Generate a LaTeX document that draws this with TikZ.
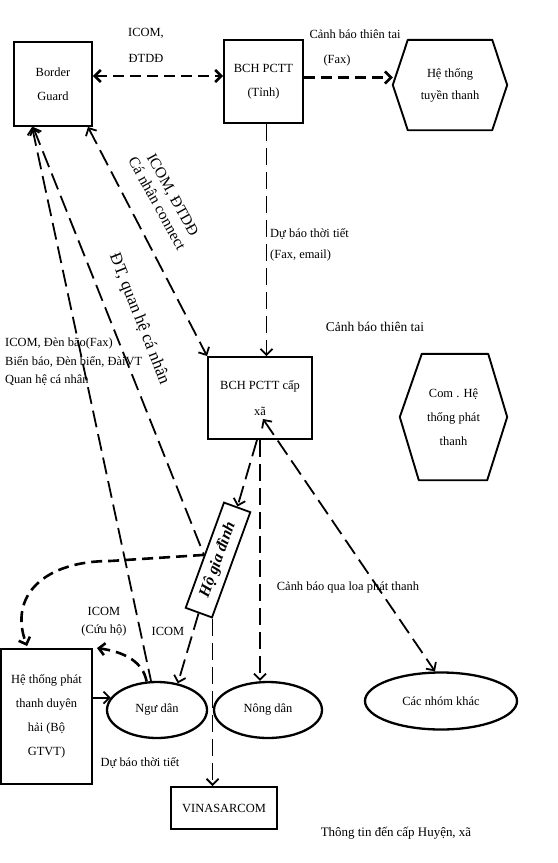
\documentclass[tikz,border=0pt]{standalone}
\usepackage{fontspec}
\setmainfont{Liberation Serif}
\usetikzlibrary{arrows.meta,calc,shapes.geometric}
\begin{document}
\begin{tikzpicture}[x=1bp,y=-1bp,
  every node/.style={font=\fontsize{12.5}{24}\selectfont, inner sep=0pt},
  >={Straight Barb[length=6bp,width=12bp]},
  box/.style={draw, line width=1.9bp, align=center},
  oval/.style={draw, ellipse, line width=2.3bp},
  hexline/.style={line width=1.9bp, line join=round},
  thickdash/.style={line width=2.6bp, dash pattern=on 11bp off 6bp},
  meddash/.style={line width=1.8bp, dash pattern=on 17bp off 7bp},
  medsolid/.style={line width=1.8bp}]
\useasboundingbox (0,0) rectangle (558,863);

% nodes
\node[box, minimum width=78bp, minimum height=84bp] (bg) at (53,84) {Border\\Guard};
\node[box, minimum width=79bp, minimum height=83bp] (tinh) at (263.5,81.5) {BCH PCTT\\(Tỉnh)};
\node[minimum width=114bp, minimum height=90bp, align=center, font=\fontsize{12.5}{22}\selectfont] (htt) at (450,85) {Hệ thống\\tuyền thanh};
\draw[hexline] (htt.west) -- ([xshift=15bp]htt.north west) -- ([xshift=-15bp]htt.north east) -- (htt.east) -- ([xshift=-15bp]htt.south east) -- ([xshift=15bp]htt.south west) -- cycle;
\node[minimum width=107bp, minimum height=126bp, align=center] (com) at (453.5,417) {Com . Hệ\\thống phát\\thanh};
\draw[hexline] (com.west) -- ([xshift=22bp]com.north west) -- ([xshift=-19bp]com.north east) -- (com.east) -- ([xshift=-20bp]com.south east) -- ([xshift=19bp]com.south west) -- cycle;
\node[box, minimum width=104bp, minimum height=82bp, font=\fontsize{12.5}{26}\selectfont] (xa) at (260,398) {BCH PCTT cấp\\xã};
\node[draw, line width=1.8bp, minimum width=112bp, minimum height=28bp, rotate=70, font=\bfseries\itshape\fontsize{16}{18}\selectfont] (hgd) at (218,560) {Hộ gia đình};
\node[oval, minimum width=100bp, minimum height=56bp] (nd) at (157,710) {Ngư dân};
\node[oval, minimum width=108bp, minimum height=56bp] (nong) at (268,710) {Nông dân};
\node[oval, minimum width=152bp, minimum height=57bp] (cnk) at (441,701) {Các nhóm khác};
\node[box, minimum width=91bp, minimum height=135bp] (htp) at (46.5,716.5) {Hệ thống phát\\thanh duyên\\hải (Bộ\\GTVT)};
\node[box, minimum width=106bp, minimum height=42bp] (vina) at (224,808) {VINASARCOM};

% connectors
\draw[thickdash, <->] ([yshift=8bp]bg.east) -- ([yshift=8bp]bg.east -| tinh.west);
\draw[thickdash, ->] ([yshift=4bp]tinh.east) -- ([yshift=4bp]tinh.east -| htt.west);
\draw[meddash, ->] ([xshift=3bp]tinh.south) -- ([xshift=3bp]tinh.south |- xa.north);
\draw[meddash, <->] ([xshift=-5bp]bg.south east) -- (xa.north west);
\draw[meddash, <-] ([xshift=19bp]bg.south west) -- ([xshift=-6bp]nd.north);
\draw[meddash, <-] ([xshift=20bp]bg.south west) -- (hgd.north);
\draw[meddash, ->] ([xshift=-3bp]xa.south) -- (hgd.east);
\draw[meddash, ->] (xa.south) -- (xa.south |- nong.north);
\coordinate (xin) at (263,419);
\draw[meddash, <->] (xin) -- ([xshift=-6bp]cnk.north);
\coordinate (bend) at (110,561);
\draw[thickdash, ->] (hgd.north) -- (bend) .. controls (45,561) and (8,595) .. ($(htp.north west)+(27,-2)$);
\draw[meddash, ->] (hgd.west) -- (nd.52);
\draw[meddash, ->] (hgd.south west) -- (hgd.south west |- vina.north);
\draw[thickdash, ->] (nd.110) .. controls (143,662) and (125,652) .. ([xshift=4bp]htp.north east);
\draw[medsolid, ->] (htp.east |- nd.165) -- (nd.165);

% labels
\node[align=center, font=\fontsize{12.5}{26}\selectfont] at (146,45) {ICOM,\\ĐTDĐ};
\node[align=left, font=\fontsize{12.5}{26}\selectfont] at (355,48) {Cảnh báo thiên tai\\\hspace*{14bp}(Fax)};
\node[align=left, anchor=north west, font=\fontsize{12.5}{21}\selectfont] at (270,228) {Dự báo thời tiết\\(Fax, email)};
\node[font=\fontsize{13.5}{16}\selectfont] at (375,327) {Cảnh báo thiên tai};
\node[align=left, anchor=west, font=\fontsize{12.5}{18.5}\selectfont] at (5,362) {ICOM, Đèn bão(Fax)\\Biển báo, Đèn biển, ĐàiVT\\Quan hệ cá nhân};
\node[rotate=-61, align=center, font=\fontsize{15.5}{18}\selectfont] at (165,199) {ICOM, ĐTDĐ\\Cá nhân connect};
\node[rotate=-68.5, font=\fontsize{17}{18}\selectfont] at (139,319) {ĐT, quan hệ cá nhân};
\node[font=\fontsize{12.5}{16}\selectfont] at (348,587) {Cảnh báo qua loa phát thanh};
\node[align=center, font=\fontsize{12.5}{18}\selectfont] at (104,622) {ICOM\\(Cứu hộ)};
\node at (168,631) {ICOM};
\node at (140,763) {Dự báo thời tiết};
\node[font=\fontsize{13}{16}\selectfont] at (396,833) {Thông tin đến cấp Huyện, xã};
\end{tikzpicture}
\end{document}
